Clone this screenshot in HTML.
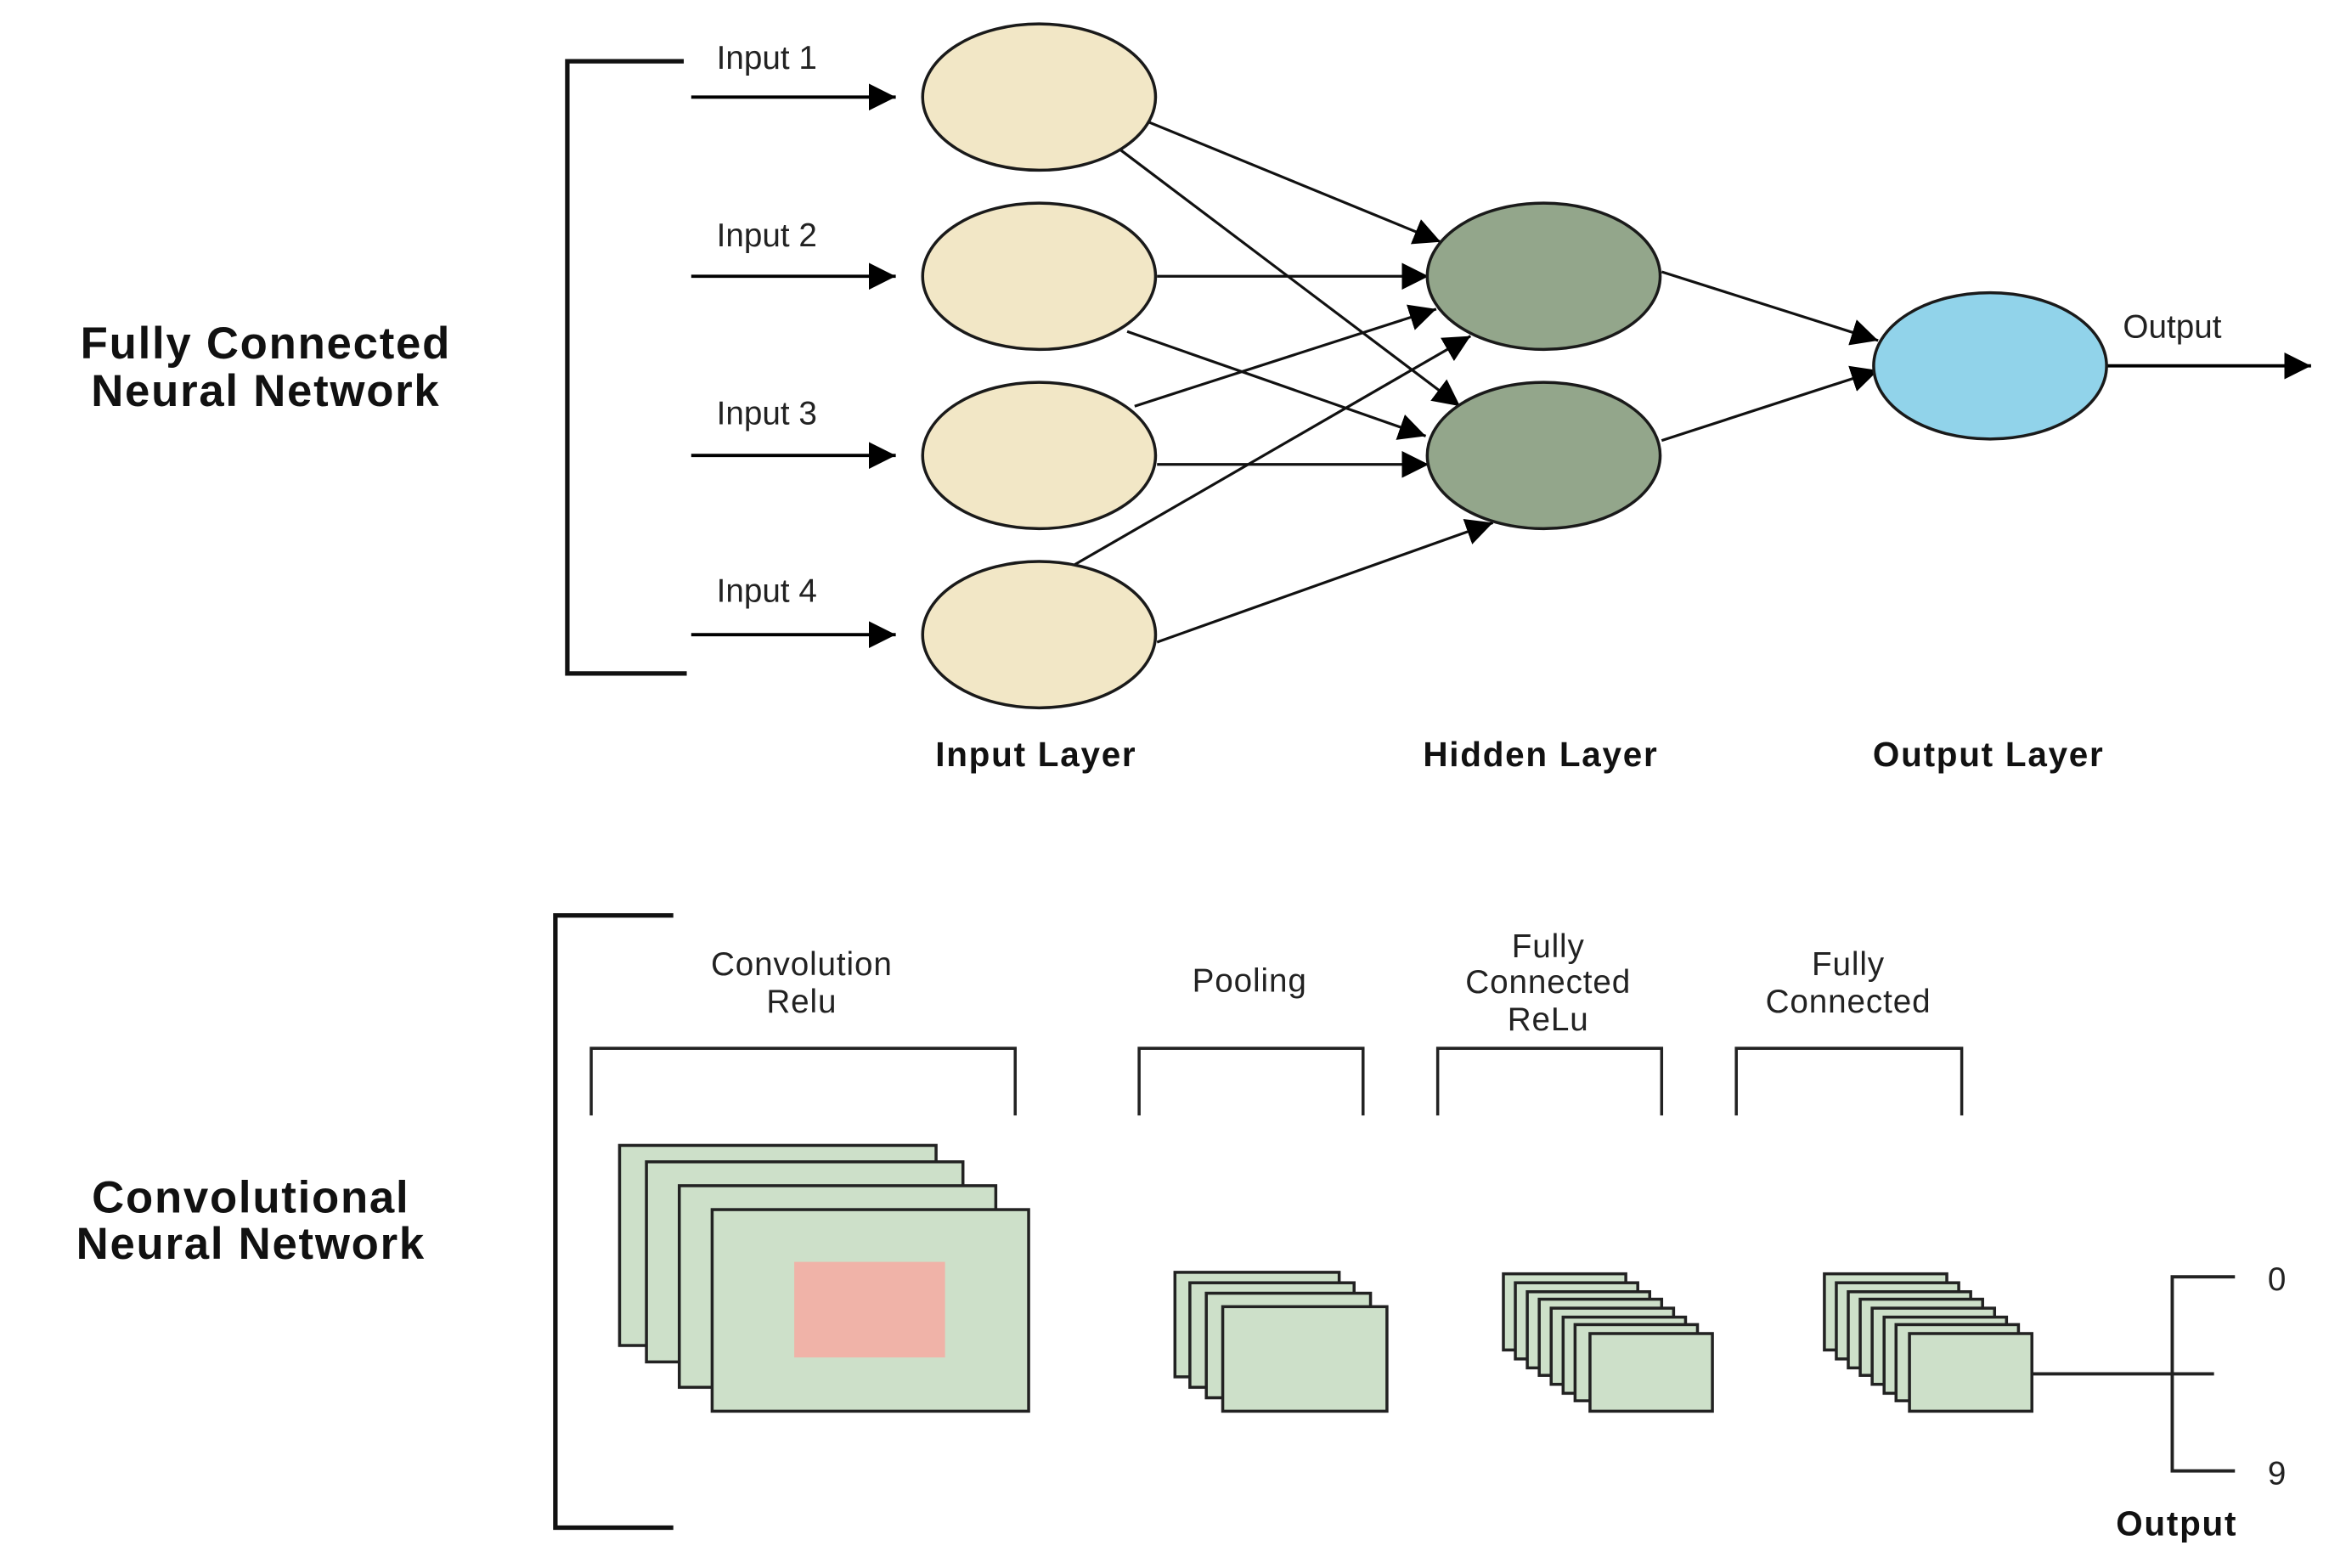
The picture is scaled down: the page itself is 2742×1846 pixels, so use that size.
<!DOCTYPE html>
<html><head><meta charset="utf-8"><style>html,body{margin:0;padding:0;background:#fff}svg{display:block}</style></head>
<body>
<svg width="2742" height="1846" viewBox="0 0 1560 1050" preserveAspectRatio="none" xmlns="http://www.w3.org/2000/svg" font-family="Liberation Sans, Arial, sans-serif">
<defs>
<marker id="a" viewBox="0 0 10 10" refX="10" refY="5" markerWidth="9" markerHeight="9" markerUnits="userSpaceOnUse" orient="auto"><path d="M0,0 L10,5 L0,10 z" fill="#000"/></marker>
<marker id="b" viewBox="0 0 10 10" refX="10" refY="5" markerWidth="18" markerHeight="18" markerUnits="userSpaceOnUse" orient="auto"><path d="M0,0 L10,5 L0,10 z" fill="#000"/></marker>
</defs>
<rect width="1560" height="1050" fill="#fff"/>
<!-- top bracket -->
<path d="M458,41 H380 V451 H460" fill="none" stroke="#111" stroke-width="3"/>
<g font-size="22" fill="#222">
<text x="480" y="46">Input 1</text><text x="480" y="165">Input 2</text><text x="480" y="284">Input 3</text><text x="480" y="403">Input 4</text>
<text x="1422" y="226">Output</text>
</g>
<g stroke="#000" stroke-width="2.2" marker-end="url(#b)">
<line x1="463" y1="65" x2="600" y2="65"/><line x1="463" y1="185" x2="600" y2="185"/>
<line x1="463" y1="305" x2="600" y2="305"/><line x1="463" y1="425" x2="600" y2="425"/>
<line x1="1411" y1="245" x2="1548" y2="245"/>
</g>
<g stroke="#111" stroke-width="1.8" marker-end="url(#b)">
<line x1="770" y1="82" x2="965" y2="162"/>
<line x1="750" y1="100" x2="978" y2="272"/>
<line x1="775" y1="185" x2="957" y2="185"/>
<line x1="755" y1="222" x2="955" y2="292"/>
<line x1="760" y1="272" x2="962" y2="207"/>
<line x1="775" y1="311" x2="957" y2="311"/>
<line x1="720" y1="378" x2="985" y2="225"/>
<line x1="775" y1="430" x2="1000" y2="350"/>
<line x1="1113" y1="182" x2="1258" y2="228"/>
<line x1="1113" y1="295" x2="1258" y2="248"/>
</g>
<g stroke="#1a1a1a" stroke-width="2">
<ellipse cx="696" cy="65" rx="78" ry="49" fill="#f2e7c6"/>
<ellipse cx="696" cy="185" rx="78" ry="49" fill="#f2e7c6"/>
<ellipse cx="696" cy="305" rx="78" ry="49" fill="#f2e7c6"/>
<ellipse cx="696" cy="425" rx="78" ry="49" fill="#f2e7c6"/>
<ellipse cx="1034" cy="185" rx="78" ry="49" fill="#93a68b"/>
<ellipse cx="1034" cy="305" rx="78" ry="49" fill="#93a68b"/>
<ellipse cx="1333" cy="245" rx="78" ry="49" fill="#91d3ea"/>
</g>
<g font-weight="bold" fill="#111" text-anchor="middle">
<text x="178" y="240" font-size="30" letter-spacing="1">Fully Connected</text>
<text x="178" y="272" font-size="30" letter-spacing="1">Neural Network</text>
<text x="694" y="513" font-size="23" letter-spacing="1">Input Layer</text>
<text x="1032" y="513" font-size="23" letter-spacing="1">Hidden Layer</text>
<text x="1332" y="513" font-size="23" letter-spacing="1">Output Layer</text>
<text x="168" y="812" font-size="30" letter-spacing="1">Convolutional</text>
<text x="168" y="843" font-size="30" letter-spacing="1">Neural Network</text>
<text x="1458" y="1028" font-size="23" letter-spacing="1">Output</text>
</g>
<!-- bottom bracket -->
<path d="M451,613 H372 V1023 H451" fill="none" stroke="#111" stroke-width="3"/>
<g fill="none" stroke="#222" stroke-width="2">
<path d="M396,747 V702 H680 V747"/><path d="M763,747 V702 H913 V747"/>
<path d="M963,747 V702 H1113 V747"/><path d="M1163,747 V702 H1314 V747"/>
</g>
<g font-size="22" fill="#222" text-anchor="middle" letter-spacing="0.5">
<text x="537" y="653">Convolution</text><text x="537" y="678">Relu</text>
<text x="837" y="664">Pooling</text>
<text x="1037" y="641">Fully</text><text x="1037" y="665">Connected</text><text x="1037" y="690">ReLu</text>
<text x="1238" y="653">Fully</text><text x="1238" y="678">Connected</text>
</g>
<g fill="#cde0c9" stroke="#222" stroke-width="2">
<rect x="415" y="767" width="212" height="134"/>
<rect x="433" y="778" width="212" height="134"/>
<rect x="455" y="794" width="212" height="135"/>
<rect x="477" y="810" width="212" height="135"/>
<rect x="787" y="852" width="110" height="70"/>
<rect x="797" y="859" width="110" height="70"/>
<rect x="808" y="866" width="110" height="70"/>
<rect x="819" y="875" width="110" height="70"/>
<rect x="1007" y="853" width="82" height="51"/>
<rect x="1015" y="859" width="82" height="51"/>
<rect x="1023" y="865" width="82" height="51"/>
<rect x="1031" y="870" width="82" height="51"/>
<rect x="1039" y="876" width="82" height="51"/>
<rect x="1047" y="882" width="82" height="51"/>
<rect x="1055" y="887" width="82" height="51"/>
<rect x="1065" y="893" width="82" height="52"/>
<rect x="1222" y="853" width="82" height="51"/>
<rect x="1230" y="859" width="82" height="51"/>
<rect x="1238" y="865" width="82" height="51"/>
<rect x="1246" y="870" width="82" height="51"/>
<rect x="1254" y="876" width="82" height="51"/>
<rect x="1262" y="882" width="82" height="51"/>
<rect x="1270" y="887" width="82" height="51"/>
<rect x="1279" y="893" width="82" height="52"/>
</g>
<rect x="532" y="845" width="101" height="64" fill="#f0b3a8"/>
<g stroke="#222" stroke-width="2.2" fill="none">
<line x1="1361" y1="920" x2="1483" y2="920"/>
<path d="M1497,855 H1455 V985 H1497"/>
</g>
<g font-size="22" fill="#222"><text x="1519" y="864">0</text><text x="1519" y="994">9</text></g>
</svg>
</body></html>
